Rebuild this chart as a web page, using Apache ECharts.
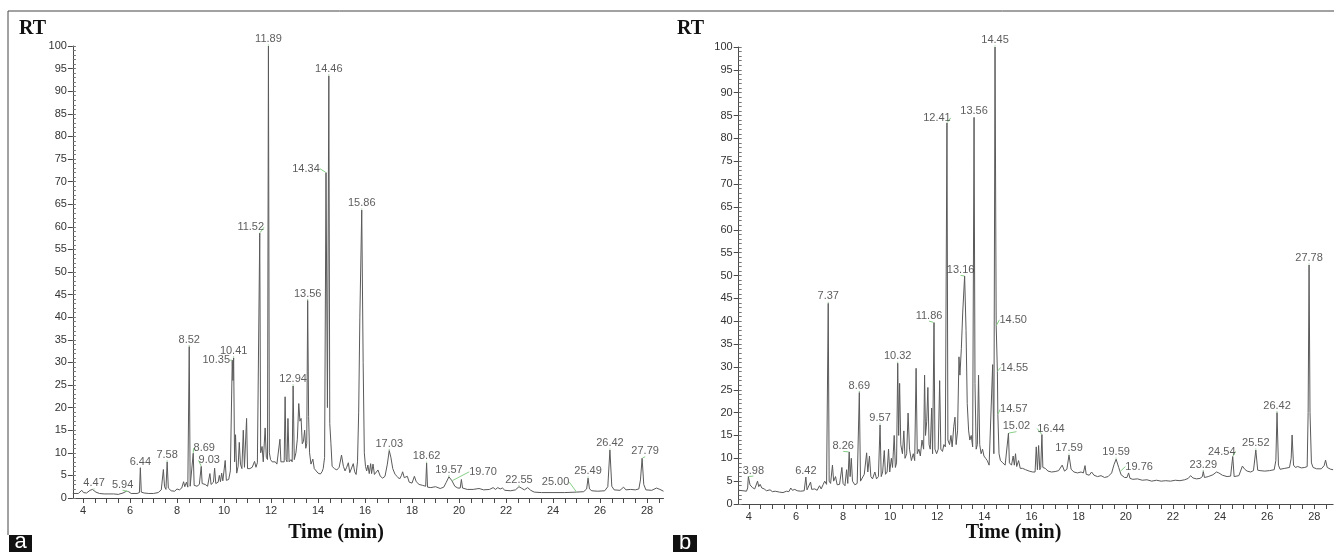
<!DOCTYPE html>
<html>
<head>
<meta charset="utf-8">
<script src="https://cdn.jsdelivr.net/npm/echarts@6/dist/echarts.min.js"></script>
<style>html,body{margin:0;padding:0;background:#fff;}#c{width:1334px;height:552px;}</style>
</head>
<body>
<div id="c"></div>
<script>
// ---------- Panel a : chromatogram ----------
const timeA = [3.57,3.8,3.95,4.02,4.15,4.3,4.4,4.47,4.55,4.7,4.9,5.1,5.18,5.3,5.5,5.7,5.85,5.94,6.05,6.3,6.4,6.44,6.48,6.6,6.8,7.0,7.2,7.33,7.42,7.47,7.53,7.58,7.63,7.75,7.9,8.0,8.1,8.2,8.28,8.33,8.4,8.46,8.52,8.56,8.62,8.69,8.73,8.85,8.95,9.03,9.07,9.2,9.3,9.4,9.45,9.55,9.6,9.65,9.75,9.8,9.85,9.9,9.95,10.05,10.1,10.2,10.27,10.35,10.38,10.41,10.45,10.49,10.54,10.6,10.65,10.7,10.76,10.82,10.87,10.96,11.0,11.1,11.2,11.3,11.36,11.42,11.48,11.52,11.56,11.62,11.67,11.75,11.8,11.85,11.89,11.93,11.98,12.05,12.1,12.18,12.25,12.32,12.38,12.42,12.5,12.56,12.6,12.64,12.68,12.72,12.77,12.85,12.9,12.94,12.99,13.06,13.12,13.18,13.23,13.28,13.33,13.38,13.43,13.48,13.52,13.56,13.6,13.64,13.7,13.78,13.84,13.92,14.0,14.1,14.17,14.22,14.28,14.34,14.4,14.46,14.5,14.55,14.6,14.7,14.8,14.9,15.0,15.08,15.15,15.22,15.29,15.35,15.42,15.5,15.56,15.62,15.68,15.73,15.78,15.86,15.92,15.97,16.02,16.07,16.12,16.18,16.24,16.28,16.34,16.4,16.48,16.55,16.65,16.75,16.85,16.95,17.03,17.1,17.18,17.28,17.38,17.47,17.55,17.6,17.67,17.75,17.8,17.88,18.0,18.1,18.18,18.3,18.45,18.58,18.62,18.66,18.8,19.0,19.2,19.35,19.45,19.57,19.7,19.82,19.95,20.05,20.1,20.15,20.35,20.6,20.85,21.05,21.3,21.45,21.55,21.65,21.75,21.85,21.95,22.2,22.4,22.55,22.65,22.78,22.92,23.05,23.2,23.5,24.0,24.5,25.0,25.3,25.43,25.49,25.55,25.65,25.9,26.2,26.33,26.42,26.5,26.6,26.85,27.0,27.1,27.3,27.38,27.5,27.65,27.72,27.79,27.86,27.95,28.2,28.4,28.55,28.7];
const signalA = [1.0,1.0,1.7,1.2,1.1,1.7,1.9,1.8,1.3,1.0,0.9,0.9,1.3,0.9,0.8,1.1,1.5,1.4,1.0,1.0,1.2,6.7,1.3,1.1,1.0,1.0,1.2,1.8,6.3,2.5,1.9,8.0,2.2,1.6,1.5,2.0,1.8,2.2,3.6,2.5,3.5,2.4,33.5,2.6,2.5,9.9,2.8,2.6,3.0,7.0,3.2,3.0,2.6,5.4,3.0,3.5,6.6,3.2,3.5,5.0,3.6,5.5,3.8,8.3,3.9,4.1,6.0,30.5,26,31,8,14,5.5,7,12.3,7.5,6.5,15,6.8,17.6,6.5,6.5,6.8,8.1,6.8,7.8,8,58.6,10,11.4,8,15.5,9,8.5,100,10,8.5,8,7.7,8,7.5,7.8,13,8,8.2,8,22.4,8.5,8,17.6,8,8.5,8,24.8,8.5,10,13,20.9,17,17.6,12,12.5,15,11,12,43.7,18,10,7.5,8.6,6.5,6.2,5.5,5.3,5.8,6.5,9,72,20,93.4,16.5,12,7,6.5,6.2,6.8,9.5,7,6,6.8,7.8,5.6,6,7.6,5.8,5.2,8,19,40,63.7,30,10,7,6,7.3,5.4,7.6,5.4,7.5,5.2,5,6.2,4.8,4.4,4.8,7.5,10.5,9,6.5,5.2,4.7,4.2,5,5.8,4.5,4.2,4.8,3.5,3.3,4.8,3.6,3,2.8,2.6,7.7,2.4,2.3,2.5,2.1,2.4,3.4,4.7,3.8,2.6,2.2,2.2,4.1,2.2,1.9,1.9,2.1,1.8,1.9,2.3,1.9,2.3,2.0,2.2,1.7,1.6,1.8,2.5,2.2,1.8,2.3,1.7,1.3,1.2,1.2,1.2,1.3,1.4,2.0,4.4,2.0,1.6,1.5,1.6,2.5,10.6,2.6,1.8,1.7,2.4,1.8,1.9,2.3,1.8,2.0,4.0,8.8,3.0,1.8,1.7,2.2,1.9,1.5];
const peakTextA = ['4.47','5.94','6.44','7.58','8.52','8.69','9.03','10.35','10.41','11.52','11.89','12.94','13.56','14.34','14.46','15.86','17.03','18.62','19.57','19.70','22.55','25.00','25.49','26.42','27.79'];
const peakTimeA = [4.47,5.94,6.44,7.58,8.52,8.69,9.03,10.35,10.41,11.52,11.89,12.94,13.56,14.34,14.46,15.86,17.03,18.62,19.57,19.70,22.55,25.00,25.49,26.42,27.79];
const peakValA  = [1.8,1.4,6.7,8.0,33.5,9.9,7.0,30.5,31,58.6,100,24.8,43.7,72,93.4,63.7,10.5,7.7,4.7,3.8,2.5,1.3,4.4,10.6,8.8];

// ---------- Panel b : chromatogram ----------
const timeB = [3.57,3.75,3.9,3.95,3.98,4.05,4.15,4.25,4.32,4.37,4.42,4.48,4.55,4.65,4.75,4.9,5.0,5.12,5.2,5.3,5.45,5.6,5.7,5.78,5.85,5.95,6.05,6.2,6.35,6.42,6.47,6.55,6.62,6.67,6.8,6.9,7.0,7.07,7.15,7.22,7.3,7.37,7.41,7.47,7.55,7.6,7.68,7.75,7.85,7.95,8.0,8.08,8.15,8.2,8.26,8.3,8.35,8.4,8.5,8.6,8.69,8.74,8.82,8.9,9.0,9.05,9.12,9.18,9.25,9.35,9.42,9.5,9.57,9.62,9.68,9.75,9.8,9.87,9.93,9.98,10.05,10.1,10.17,10.22,10.27,10.32,10.36,10.4,10.45,10.52,10.58,10.63,10.7,10.76,10.82,10.9,10.98,11.04,11.1,11.15,11.22,11.28,11.35,11.42,11.46,11.5,11.55,11.6,11.65,11.7,11.76,11.8,11.86,11.9,11.97,12.04,12.1,12.15,12.22,12.28,12.34,12.41,12.45,12.52,12.58,12.63,12.7,12.75,12.8,12.86,12.92,12.96,13.02,13.08,13.16,13.22,13.27,13.33,13.38,13.44,13.5,13.56,13.6,13.65,13.7,13.75,13.8,13.86,13.92,13.98,14.05,14.12,14.2,14.28,14.35,14.4,14.45,14.5,14.55,14.57,14.62,14.68,14.78,14.88,14.96,15.02,15.06,15.15,15.22,15.27,15.32,15.37,15.45,15.52,15.62,15.75,15.9,16.05,16.15,16.2,16.25,16.3,16.35,16.39,16.44,16.48,16.58,16.7,16.85,17.0,17.15,17.3,17.4,17.5,17.59,17.68,17.8,17.95,18.1,18.2,18.27,18.32,18.45,18.55,18.65,18.8,18.95,19.1,19.25,19.4,19.5,19.59,19.7,19.8,19.95,20.05,20.12,20.18,20.3,20.5,20.7,20.9,21.1,21.3,21.5,21.7,21.9,22.1,22.3,22.5,22.65,22.75,22.85,23.0,23.15,23.25,23.29,23.34,23.5,23.7,23.85,23.95,24.1,24.3,24.45,24.5,24.54,24.6,24.68,24.8,24.95,25.05,25.15,25.3,25.42,25.52,25.6,25.7,25.9,26.1,26.3,26.37,26.42,26.48,26.55,26.75,26.95,27.02,27.06,27.12,27.2,27.3,27.45,27.6,27.7,27.74,27.78,27.82,27.88,27.95,28.1,28.3,28.42,28.48,28.55,28.7,28.8];
const signalB = [3.0,2.9,2.8,3.5,6.0,4.2,3.6,3.3,3.5,5.0,3.8,4.3,3.5,3.3,2.9,3.1,2.7,2.8,3.2,2.6,2.5,2.8,2.7,3.5,3.0,3.2,2.9,2.8,2.9,5.9,3.1,2.9,4.8,3.2,3.3,3.0,4.0,3.3,4.2,5.0,4.3,43.9,5,4.5,8.5,5,6,4.2,4.3,8,4.5,4.0,7.5,4.5,11.4,6,10,5,4.2,4.5,24.4,5,5,6.5,11.2,7,10.5,6,5.5,7,5.5,6,17.3,6,7,11.7,6.5,7,12,7,10,8,15,8,9,30.8,15,26.4,13,11,16,10,11,19.9,12,9.5,11,9.5,29.7,11,12,10.5,14,12,28.2,15,18,25.5,13,12,21,11,39.7,12,11,12,27,12,11.5,13,12.5,83.4,14,13,15,12.5,17,19,13,16,32.2,28.2,34,42,49.9,38,22,16,14,15,12.5,84.6,26.4,12,13,28.2,13,11,12,10.5,10,9.5,8.5,8.2,30.5,11,100,39,29,19.6,11,9.5,9,8.5,8.2,15.5,9,8.5,10.5,8.5,11,8.2,9.5,7.8,7.8,7.5,7.2,7,7,12.5,7.5,12.8,7.5,8,15.2,8,7.8,7.2,7.0,7.1,7.3,8.5,7.2,7.6,10.7,7.6,7.0,6.8,7.0,6.8,8.4,6.5,6.3,7.0,6.3,6.0,6.2,5.8,6.0,6.8,8.6,9.8,8.0,6.4,5.8,5.8,6.8,5.6,5.4,5.5,5.2,5.3,5.0,5.2,5.0,5.1,5.0,5.2,5.1,5.3,5.6,6.2,5.7,5.5,5.6,6.0,7.1,5.8,6.0,6.4,7.0,6.8,6.3,6.0,6.1,8.5,10.4,6.0,5.6,6.2,8.3,7.6,7.2,7.0,7.3,11.8,7.4,7.3,7.2,7.3,7.5,9.5,20,8.5,7.6,7.8,8.0,10,15.1,8.5,8.0,8.2,7.9,8.0,8.2,20,52.3,20,9,8,7.7,7.7,8.4,9.6,8,7.6,7.5];
const peakTextB = ['3.98','6.42','7.37','8.26','8.69','9.57','10.32','11.86','12.41','13.16','13.56','14.45','14.50','14.55','14.57','15.02','16.44','17.59','19.59','19.76','23.29','24.54','25.52','26.42','27.78'];
const peakTimeB = [3.98,6.42,7.37,8.26,8.69,9.57,10.32,11.86,12.41,13.16,13.56,14.45,14.50,14.55,14.57,15.02,16.44,17.59,19.59,19.76,23.29,24.54,25.52,26.42,27.78];
const peakValB  = [6.0,5.9,43.9,11.4,24.4,17.3,30.8,39.7,83.4,49.9,84.6,100,39,29,19.6,15.5,15.2,10.7,9.8,7.1,7.1,10.4,11.8,20,52.3];

// ---------- Axis tick labels ----------
const yTickLabels = [0,5,10,15,20,25,30,35,40,45,50,55,60,65,70,75,80,85,90,95,100];
const xTickLabels = [4,6,8,10,12,14,16,18,20,22,24,26,28];
const xTickMarks = [4,4.5,5,5.5,6,6.5,7,7.5,8,8.5,9,9.5,10,10.5,11,11.5,12,12.5,13,13.5,14,14.5,15,15.5,16,16.5,17,17.5,18,18.5,19,19.5,20,20.5,21,21.5,22,22.5,23,23.5,24,24.5,25,25.5,26,26.5,27,27.5,28,28.5];

// ---------- label placement (layout only) ----------
const shiftA = {'5.94':[-6,0],'6.44':[0,1],'8.69':[11,2],'9.03':[8,1],'10.35':[-16,7],'11.52':[-9,1],'14.34':[-20,3],'19.70':[31,-2],'25.00':[-21,-3],'27.79':[3,0]};
const shiftB = {'3.98':[5,1],'6.42':[0,1],'8.26':[-6,1],'11.86':[-5,0],'12.41':[-10,2],'13.16':[-4,1],'13.56':[0,1],'14.50':[17,1],'14.55':[17,3],'14.57':[16,2],'15.02':[8,0],'16.44':[9,1],'19.76':[19,2],'24.54':[-11,2]};

const FONT = '"Liberation Sans", Arial, sans-serif';
const SERIF = '"Liberation Serif", "Times New Roman", serif';
const AX = '#4a4a4a';

function pairs(t, v) { return t.map((x, i) => [x, v[i]]); }
function peaks(txt, t, v) { return txt.map((s, i) => ({ name: s, value: [t[i], v[i]] })); }

function xAxisFor(gi, max) {
  return {
    type: 'value', gridIndex: gi, min: 3.57, max: max,
    axisLine: { show: true, onZero: false, lineStyle: { color: AX, width: 1 } },
    axisTick: { show: true, customValues: xTickMarks, length: 5, lineStyle: { color: AX } },
    axisLabel: { customValues: xTickLabels, margin: 7, color: '#333', fontFamily: FONT, fontSize: 11 },
    splitLine: { show: false }
  };
}
function yAxisMain(gi) {
  return {
    type: 'value', gridIndex: gi, min: 0, max: 100, interval: 5,
    axisLine: { show: true, lineStyle: { color: AX, width: 1 } },
    axisTick: { show: true, length: 5, lineStyle: { color: AX } },
    axisLabel: { margin: 6, color: '#333', fontFamily: FONT, fontSize: 11 },
    splitLine: { show: false }
  };
}
function yAxisMinor(gi) {
  return {
    type: 'value', gridIndex: gi, min: 0, max: 100, interval: 1, position: 'left',
    axisLine: { show: false },
    axisTick: { show: true, inside: true, length: 3, lineStyle: { color: '#777' } },
    axisLabel: { show: false }, splitLine: { show: false }
  };
}
function labelSeries(xi, yi, data, shift) {
  return {
    type: 'scatter', xAxisIndex: xi, yAxisIndex: yi, data: data,
    symbol: 'circle', symbolSize: 1, itemStyle: { color: 'rgba(0,0,0,0)' },
    silent: true, z: 5,
    label: { show: true, position: 'top', distance: 1, formatter: '{b}', color: '#333', fontFamily: FONT, fontSize: 11 },
    labelLine: { show: true, lineStyle: { color: '#86cf86', width: 1 } },
    labelLayout: function (p) { const s = shift[data[p.dataIndex].name]; return s ? { dx: s[0], dy: s[1] } : {}; }
  };
}

const chart = echarts.init(document.getElementById('c'), null, { renderer: 'canvas' });
chart.setOption({
  animation: false,
  backgroundColor: '#fff',
  grid: [
    { left: 72.9, top: 46, width: 590.6, height: 452, containLabel: false, outerBoundsMode: 'none' },
    { left: 738.7, top: 47, width: 594.4, height: 457, containLabel: false, outerBoundsMode: 'none' }
  ],
  xAxis: [xAxisFor(0, 28.7), xAxisFor(1, 28.8)],
  yAxis: [yAxisMain(0), yAxisMinor(0), yAxisMain(1), yAxisMinor(1)],
  series: [
    { type: 'line', xAxisIndex: 0, yAxisIndex: 0, data: pairs(timeA, signalA), showSymbol: false, symbol: 'none',
      lineStyle: { color: '#5a5a5a', width: 1 }, silent: true },
    { type: 'line', xAxisIndex: 1, yAxisIndex: 2, data: pairs(timeB, signalB), showSymbol: false, symbol: 'none',
      lineStyle: { color: '#5a5a5a', width: 1 }, silent: true },
    labelSeries(0, 0, peaks(peakTextA, peakTimeA, peakValA), shiftA),
    labelSeries(1, 2, peaks(peakTextB, peakTimeB, peakValB), shiftB)
  ],
  graphic: [
    { type: 'line', shape: { x1: 8, y1: 11, x2: 1334, y2: 11 }, style: { stroke: '#444', lineWidth: 1 } },
    { type: 'line', shape: { x1: 8, y1: 11, x2: 8, y2: 535 }, style: { stroke: '#444', lineWidth: 1 } },
    { type: 'text', x: 19, y: 28.5, style: { text: 'RT', font: 'bold 20px ' + SERIF, fill: '#111', verticalAlign: 'middle', align: 'left' } },
    { type: 'text', x: 677, y: 28.5, style: { text: 'RT', font: 'bold 20px ' + SERIF, fill: '#111', verticalAlign: 'middle', align: 'left' } },
    { type: 'text', x: 336, y: 533, style: { text: 'Time (min)', font: 'bold 20px ' + SERIF, fill: '#111', verticalAlign: 'middle', align: 'center' } },
    { type: 'text', x: 1013.5, y: 533, style: { text: 'Time (min)', font: 'bold 20px ' + SERIF, fill: '#111', verticalAlign: 'middle', align: 'center' } },
    { type: 'rect', shape: { x: 9, y: 535, width: 23, height: 20 }, style: { fill: '#111' } },
    { type: 'text', x: 20.5, y: 531, style: { text: 'a', font: '22px ' + FONT, fill: '#fff', verticalAlign: 'top', align: 'center' } },
    { type: 'rect', shape: { x: 673, y: 535, width: 24, height: 20 }, style: { fill: '#111' } },
    { type: 'text', x: 685, y: 532, style: { text: 'b', font: '22px ' + FONT, fill: '#fff', verticalAlign: 'top', align: 'center' } }
  ]
});
</script>
</body>
</html>
